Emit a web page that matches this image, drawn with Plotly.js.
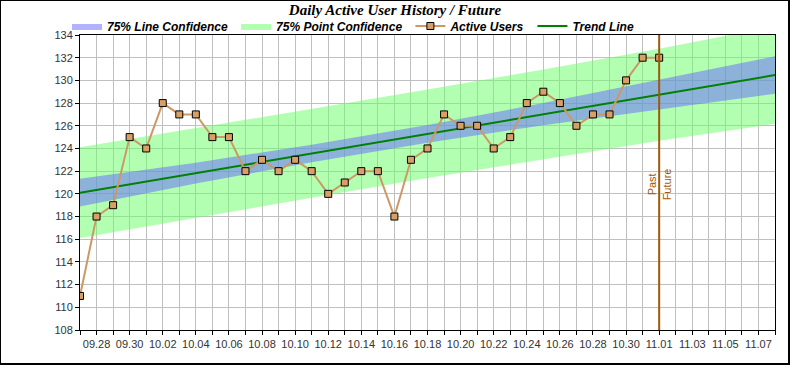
<!DOCTYPE html>
<html><head><meta charset="utf-8">
<script src="https://cdn.plot.ly/plotly-3.0.1.min.js"></script>
<style>
html,body{margin:0;padding:0;background:#fff}
#wrap{position:relative;width:790px;height:365px;}
#chart{position:absolute;left:0;top:0;width:790px;height:365px;}
#frame{position:absolute;left:0;top:0;width:790px;height:365px;box-sizing:border-box;border:1px solid #000;border-right-width:2px;border-bottom-width:2px;pointer-events:none;}
</style></head><body>
<div id="wrap"><div id="chart"></div><div id="frame"></div></div>
<script>
// Day labels (x categories), 09.27 .. 11.08
const dayLabels = ['09.27','09.28','09.29','09.30',
  '10.01','10.02','10.03','10.04','10.05','10.06','10.07','10.08','10.09','10.10',
  '10.11','10.12','10.13','10.14','10.15','10.16','10.17','10.18','10.19','10.20',
  '10.21','10.22','10.23','10.24','10.25','10.26','10.27','10.28','10.29','10.30','10.31',
  '11.01','11.02','11.03','11.04','11.05','11.06','11.07','11.08'];

// Active users, 09.27 .. 11.01
const userDays = dayLabels.slice(0, 36);
const userValues = [111,118,119,125,124,128,127,127,125,125,122,123,122,123,122,120,121,122,
  122,118,123,124,127,126,126,124,125,128,129,128,126,127,127,130,132,132];

// Trend line
const trendDays = ['09.27','11.08'];
const trendValues = [120.1, 130.47];

// Confidence bands (read at weekly points)
const bandDays = ['09.27','10.04','10.11','10.18','10.25','11.01','11.08'];
const lineConfUpper  = [121.32,122.75,124.33,126.07,128.00,130.04,132.12];
const lineConfLower  = [118.88,120.91,122.79,124.51,126.04,127.44,128.82];
const pointConfUpper = [124.10,125.78,127.46,129.19,130.97,132.79,134.77];
const pointConfLower = [116.10,117.88,119.66,121.39,123.07,124.69,126.17];

const markDay = '11.01';

const idx = d => dayLabels.indexOf(d);
const bx = bandDays.map(idx);
const poly = (up, lo) => ({x: bx.concat(bx.slice().reverse()), y: up.concat(lo.slice().reverse())});

const pc = poly(pointConfUpper, pointConfLower);
const lc = poly(lineConfUpper, lineConfLower);

const traces = [
  {x: pc.x, y: pc.y, fill: 'toself', mode: 'lines', line: {width: 0}, fillcolor: 'rgba(102,255,102,0.5)',
   name: '75% Point Confidence\u00a0', legendrank: 2, hoverinfo: 'skip'},
  {x: lc.x, y: lc.y, fill: 'toself', mode: 'lines', line: {width: 0}, fillcolor: 'rgba(102,102,255,0.5)',
   name: '75% Line Confidence\u00a0', legendrank: 1, hoverinfo: 'skip'},
  {x: trendDays.map(idx), y: trendValues, mode: 'lines', line: {color: '#008000', width: 2},
   name: 'Trend Line', legendrank: 4},
  {x: userDays.map(idx), y: userValues, mode: 'lines+markers', line: {color: '#cc9966', width: 2},
   marker: {symbol: 'square', size: 7, color: '#d9a066', line: {color: '#000', width: 1}},
   name: 'Active Users\u00a0', legendrank: 3}
];

const tickVals = dayLabels.map((d, i) => i);
const tickText = dayLabels.map((d, i) => (i % 2 === 1 ? d : ''));

const axisFont = {family: 'Liberation Sans, Arial', size: 11, color: '#333'};
const mx = idx(markDay);

const layout = {
  width: 790, height: 365,
  margin: {l: 80, r: 15, t: 35, b: 35},
  paper_bgcolor: '#fff', plot_bgcolor: '#fff',
  title: {text: 'Daily Active User History / Future', x: 0.5, xanchor: 'center', y: 0.972, yanchor: 'middle',
    font: {family: 'Liberation Serif, Times New Roman', size: 15, weight: 'bold', style: 'italic', color: '#000'}},
  showlegend: true,
  legend: {orientation: 'h', x: -0.0187, xanchor: 'left', y: 1.0305, yanchor: 'middle',
    bgcolor: 'rgba(0,0,0,0)', itemwidth: 30,
    font: {family: 'Liberation Sans, Arial', size: 12, weight: 'bold', style: 'italic', color: '#000'}},
  xaxis: {range: [0, 42], tickmode: 'array', tickvals: tickVals, ticktext: tickText,
    ticks: 'outside', ticklen: 4, tickcolor: '#000', showline: true, linecolor: '#000', linewidth: 1, mirror: true,
    showgrid: true, gridcolor: '#c0c0c0', gridwidth: 1, zeroline: false, tickfont: axisFont, tickangle: 0, fixedrange: true},
  yaxis: {range: [108, 134], tickmode: 'linear', tick0: 108, dtick: 2,
    ticks: 'outside', ticklen: 4, tickcolor: '#000', showline: true, linecolor: '#000', linewidth: 1, mirror: true,
    showgrid: true, gridcolor: '#c0c0c0', gridwidth: 1, zeroline: false, tickfont: axisFont, fixedrange: true},
  shapes: [{type: 'line', xref: 'x', yref: 'paper', x0: mx, x1: mx, y0: 0, y1: 1,
    line: {color: '#a0580a', width: 2}}],
  annotations: [
    {xref: 'x', yref: 'y', x: mx, y: 120.85, xshift: -7, text: 'Past', textangle: -90, showarrow: false,
     font: {family: 'Liberation Sans, Arial', size: 11, color: '#a0580a'}},
    {xref: 'x', yref: 'y', x: mx, y: 120.85, xshift: 8, text: 'Future', textangle: -90, showarrow: false,
     font: {family: 'Liberation Sans, Arial', size: 11, color: '#a0580a'}}
  ]
};

Plotly.newPlot('chart', traces, layout, {displayModeBar: false, staticPlot: true});
</script>
</body></html>
